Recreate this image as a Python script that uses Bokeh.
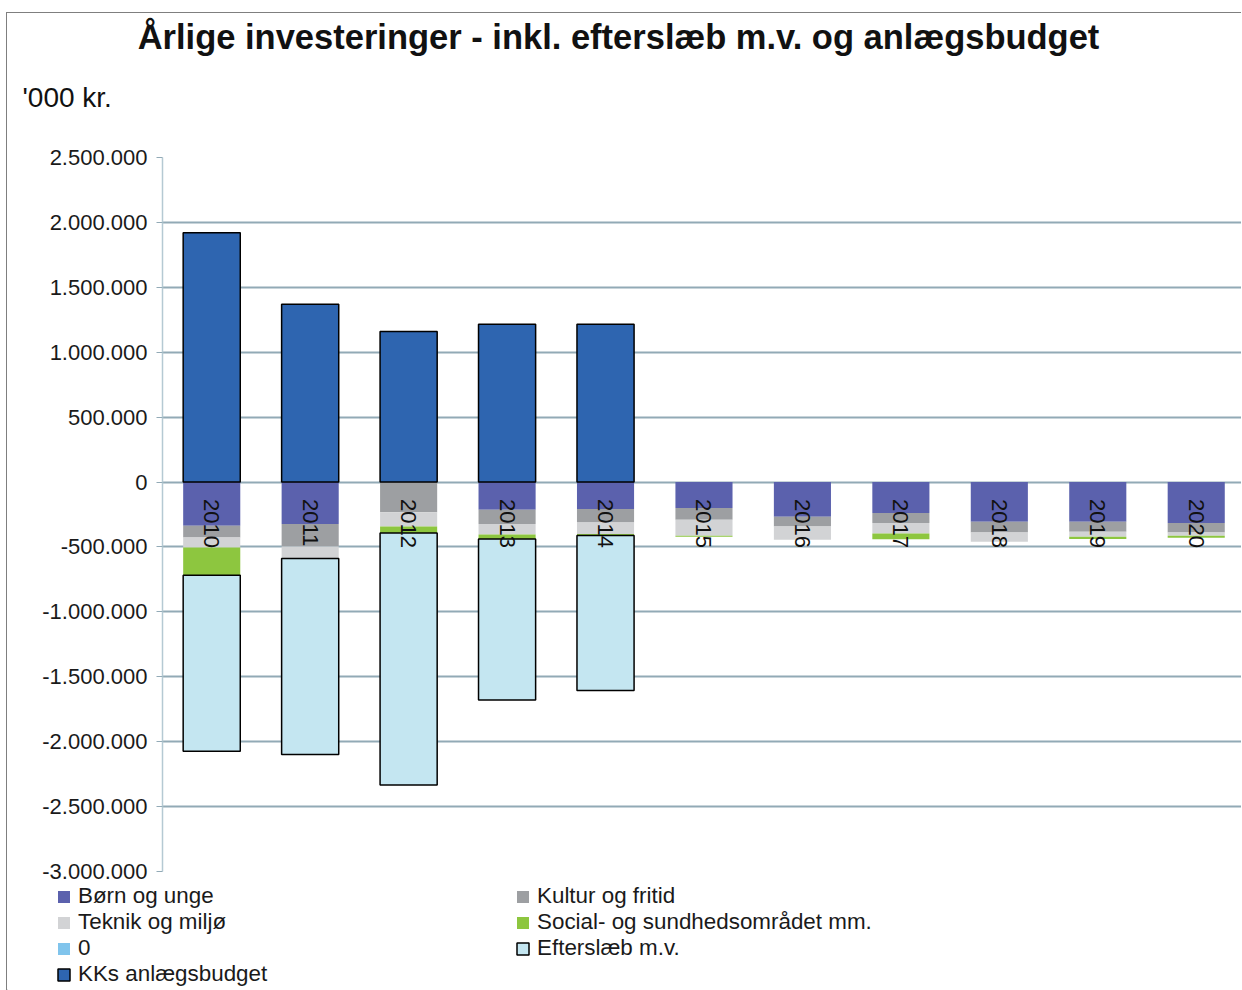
import math
import numpy as np
from bokeh.plotting import figure
from bokeh.layouts import column, row
from bokeh.models import (ColumnDataSource, Range1d, Legend, LegendItem, Label,
                          CustomJSTickFormatter, FixedTicker, Spacer)
from bokeh.core.properties import value
from bokeh.embed import file_html
from bokeh.resources import INLINE

# ---------------- data ('000 kr.) ----------------
years = ["2010", "2011", "2012", "2013", "2014", "2015", "2016", "2017", "2018", "2019", "2020"]
born_og_unge = [-337000, -324000, 0, -213000, -208000, -200000, -267000, -239000, -306000, -306000, -316000]
kultur_og_fritid = [-90000, -172000, -233000, -110000, -103000, -90000, -75000, -77000, -82000, -77000, -72000]
teknik_og_miljo = [-77000, -92000, -110000, -82000, -90000, -123000, -103000, -80000, -72000, -38000, -26000]
social_sundhed = [-213000, 0, -49000, -33000, -10000, -8000, 0, -44000, 0, -18000, -15000]
nul_serie = [0, 0, 0, 0, 0, 0, 0, 0, 0, 0, 0]
efterslaeb = [-1356000, -1510000, -1941000, -1240000, -1194000, None, None, None, None, None, None]
kks_anlaeg = [1920000, 1370000, 1160000, 1215000, 1215000, None, None, None, None, None, None]
y_ticks = [-3000000, -2500000, -2000000, -1500000, -1000000, -500000, 0,
           500000, 1000000, 1500000, 2000000, 2500000]

series_labels = ["Børn og unge", "Kultur og fritid", "Teknik og miljø",
                 "Social- og sundhedsområdet mm.", "0", "Efterslæb m.v."]
kks_label = "KKs anlægsbudget"
colors = ["#5b61ad", "#9d9fa2", "#d2d3d5", "#8dc63f", "#80c4ec", "#c4e6f1"]
line_colors = [None, None, None, None, None, "black"]
kks_color = "#2e65b0"

src = ColumnDataSource(dict(
    x=list(range(len(years))),
    year=years,
    born=np.array(born_og_unge, dtype=float),
    kultur=np.array(kultur_og_fritid, dtype=float),
    teknik=np.array(teknik_og_miljo, dtype=float),
    social=np.array(social_sundhed, dtype=float),
    nul=np.array(nul_serie, dtype=float),
    efter=np.array(efterslaeb, dtype=float),
    kks=np.array(kks_anlaeg, dtype=float),
))

FONT = "Liberation Sans"
GRID = "#92aab6"
W = 1234


def blank_fig(h):
    f = figure(width=W, height=h, x_range=Range1d(0, 1), y_range=Range1d(0, 1),
               output_backend="svg", toolbar_location=None,
               x_axis_location=None, y_axis_location=None,
               min_border=0, outline_line_color=None, frame_align=False,
               background_fill_color="white", border_fill_color="white")
    f.xgrid.visible = False
    f.ygrid.visible = False
    return f


# ---------------- header (title + unit) ----------------
TOP_H = 132
top = blank_fig(TOP_H)
top.add_layout(Label(x=611, y=TOP_H - 23, x_units="screen", y_units="screen",
                     text="Årlige investeringer - inkl. efterslæb m.v. og anlægsbudget",
                     text_align="center", text_baseline="middle",
                     text_font=FONT, text_font_size="34.5px", text_font_style="bold",
                     text_color="#111111"))
top.add_layout(Label(x=15, y=TOP_H - 84, x_units="screen", y_units="screen",
                     text="'000 kr.", text_align="left", text_baseline="middle",
                     text_font=FONT, text_font_size="28px", text_color="#111111"))

# ---------------- main chart ----------------
FRAME_W = W - 155
p = figure(width=W, height=738,
           x_range=Range1d(-0.5, -0.5 + FRAME_W / 98.45),
           y_range=Range1d(-3000000, 2500000),
           output_backend="svg", toolbar_location=None,
           x_axis_location=None, frame_align=False,
           min_border_left=155, min_border_top=12, min_border_bottom=12, min_border_right=0,
           outline_line_color=None, background_fill_color="white", border_fill_color="white")

stackers = ["born", "kultur", "teknik", "social", "nul", "efter"]
rs = p.vbar_stack(stackers, x="x", width=0.58, source=src,
                  fill_color=colors, line_color=line_colors, line_width=1.5)
r_kks = p.vbar(x="x", top="kks", bottom=0, width=0.58, source=src,
               fill_color=kks_color, line_color="black", line_width=1.5)

p.text(x="x", y=0, text="year", source=src, angle=-math.pi / 2,
       text_align="left", text_baseline="middle", y_offset=17,
       text_font=value(FONT), text_font_size="22px", text_color="#111111")

p.xgrid.visible = False
p.ygrid.ticker = FixedTicker(ticks=y_ticks)
p.ygrid.grid_line_color = GRID
p.ygrid.grid_line_width = 2
yax = p.yaxis[0]
yax.ticker = FixedTicker(ticks=y_ticks)
yax.formatter = CustomJSTickFormatter(
    code="return Math.round(tick).toString().replace(/\\B(?=(\\d{3})+(?!\\d))/g, '.');")
yax.axis_line_color = "#b5c9d3"
yax.axis_line_width = 1.5
yax.major_tick_line_color = GRID
yax.major_tick_out = 6
yax.major_tick_in = 0
yax.minor_tick_line_color = None
yax.major_label_standoff = 9
yax.major_label_text_font = FONT
yax.major_label_text_font_size = "22px"
yax.major_label_text_color = "#1a1a1a"

# ---------------- legend strip ----------------
LEG_H = 107
leg = blank_fig(LEG_H)
# one off-screen row so the legend swatches are drawn
swatch_src = ColumnDataSource(dict(x=[-5.0], top=[0.0]))
swatches = []
for c, lc in zip(colors + [kks_color], line_colors + ["black"]):
    swatches.append(leg.vbar(x="x", top="top", width=0.1, source=swatch_src,
                             fill_color=c, line_color=lc, line_width=1.5))
items = [LegendItem(label=lab, renderers=[r])
         for lab, r in zip(series_labels + [kks_label], swatches)]
legend = Legend(items=items, orientation="horizontal", ncols=2,
                location=(49, LEG_H - 104),
                label_text_font=FONT, label_text_font_size="22.4px", label_text_color="#1a1a1a",
                glyph_width=15, glyph_height=15, label_standoff=7,
                label_width=437, label_height=22, spacing=0,
                padding=0, margin=0, border_line_color=None, background_fill_alpha=0)
leg.add_layout(legend)

inner = column(top, p, leg, spacing=0)
inner.styles = {"border-top": "1px solid #7f7f7f", "border-left": "1px solid #7f7f7f"}
layout = column(Spacer(width=10, height=12), row(Spacer(width=6, height=10), inner))

open("out.html", "w").write(file_html(layout, INLINE))
